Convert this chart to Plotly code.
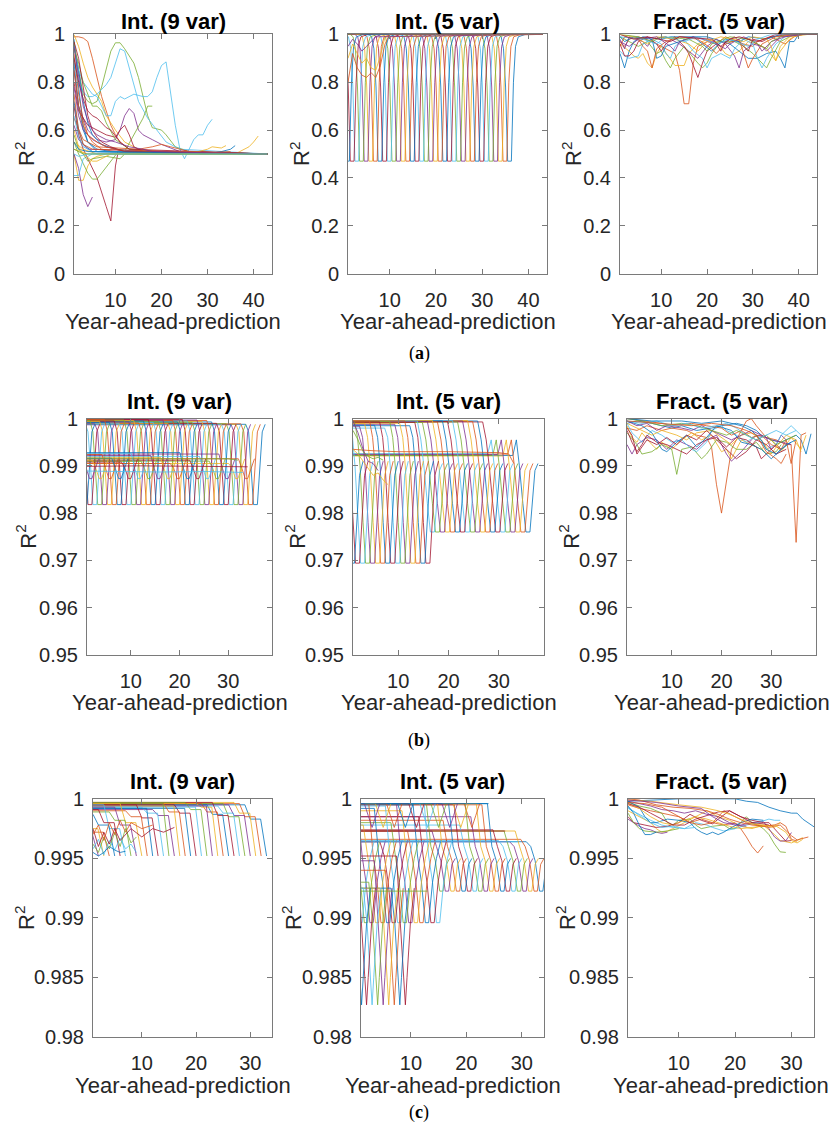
import plotly.graph_objects as go

W, H = 839, 1132
COLORS = ["#0072BD", "#D95319", "#EDB120", "#7E2F8E", "#77AC30", "#4DBEEE", "#A2142F"]
FONT = "Liberation Sans, Arial, sans-serif"

# ---------------- row (a) ----------------
# Int. (9 var): knots (year, R2) of every curve
a1_curves = [
    ([1, 2, 3, 4, 6, 43], [0.98, 0.78, 0.62, 0.55, 0.51, 0.5]),
    ([1, 2, 3, 4, 5, 6, 7, 8, 9, 10, 11, 13, 16, 43], [0.99, 0.99, 0.985, 0.97, 0.9, 0.82, 0.74, 0.68, 0.62, 0.58, 0.55, 0.52, 0.51, 0.5]),
    ([1, 2, 3, 4, 5, 6, 7, 8, 10, 12, 15, 20, 43], [1.0, 0.95, 0.88, 0.82, 0.78, 0.75, 0.72, 0.66, 0.6, 0.55, 0.52, 0.51, 0.5]),
    ([1, 2, 4, 6, 8, 10, 11, 12, 13, 14, 15, 16, 18, 20, 24, 43], [0.85, 0.7, 0.6, 0.56, 0.55, 0.56, 0.6, 0.66, 0.69, 0.67, 0.6, 0.58, 0.56, 0.54, 0.51, 0.5]),
    ([1, 2, 3, 4, 5, 6, 7, 8, 9, 10, 11, 12, 14, 15, 16, 17, 18, 20, 21, 23, 26, 43], [0.97, 0.85, 0.75, 0.72, 0.71, 0.72, 0.78, 0.86, 0.93, 0.965, 0.965, 0.94, 0.88, 0.82, 0.74, 0.66, 0.61, 0.6, 0.58, 0.53, 0.51, 0.5]),
    ([1, 2, 3, 4, 5, 6, 7, 8, 9, 10, 11, 12, 13, 14, 15, 17, 19, 21, 24, 43], [0.9, 0.8, 0.76, 0.74, 0.74, 0.75, 0.77, 0.79, 0.82, 0.88, 0.94, 0.93, 0.86, 0.78, 0.72, 0.65, 0.6, 0.55, 0.52, 0.5]),
    ([1, 2, 3, 4, 6, 8, 9, 10, 10.5, 12, 43], [0.7, 0.58, 0.52, 0.48, 0.4, 0.28, 0.22, 0.45, 0.5, 0.51, 0.5]),
    ([1, 2, 3, 4, 5, 7, 10, 15, 30, 33, 35, 36], [0.95, 0.85, 0.72, 0.63, 0.58, 0.54, 0.52, 0.51, 0.5, 0.51, 0.52, 0.535]),
    ([1, 2, 3, 4, 5, 7, 10, 30, 35], [0.92, 0.75, 0.64, 0.58, 0.55, 0.52, 0.51, 0.505, 0.51]),
    ([1, 2, 3, 4, 5, 6, 8, 43], [0.5, 0.39, 0.39, 0.45, 0.48, 0.49, 0.5, 0.5]),
    ([1, 2, 3, 4, 5], [0.5, 0.44, 0.33, 0.28, 0.32]),
    ([1, 2, 3, 4, 5, 6, 7, 9, 10, 11, 12, 14, 16, 17, 18], [0.55, 0.5, 0.46, 0.42, 0.395, 0.395, 0.42, 0.47, 0.5, 0.52, 0.51, 0.58, 0.65, 0.7, 0.7]),
    ([1, 2, 3, 5, 6, 8, 9, 10, 11, 12, 14, 16, 17, 18, 19, 20, 21, 22, 23, 24, 25, 26, 27, 28, 29, 30, 31],
     [0.95, 0.85, 0.8, 0.75, 0.74, 0.66, 0.66, 0.72, 0.74, 0.73, 0.75, 0.74, 0.74, 0.76, 0.82, 0.87, 0.885, 0.75, 0.62, 0.52, 0.48, 0.52, 0.56, 0.58, 0.58, 0.62, 0.645]),
    ([1, 2, 4, 6, 8, 10, 11, 12, 13, 14, 16, 43], [0.8, 0.68, 0.62, 0.6, 0.58, 0.57, 0.6, 0.62, 0.58, 0.53, 0.51, 0.5]),
    ([1, 2, 3, 4, 6, 9, 43], [0.88, 0.7, 0.6, 0.55, 0.52, 0.51, 0.5]),
    ([1, 3, 6, 15, 18, 20, 22, 26, 43], [0.65, 0.56, 0.53, 0.52, 0.53, 0.54, 0.53, 0.51, 0.5]),
    ([1, 3, 6, 36, 37, 38, 39, 40, 41], [0.55, 0.52, 0.5, 0.5, 0.51, 0.52, 0.53, 0.55, 0.575]),
    ([1, 2, 3, 5, 8, 12, 43], [0.78, 0.66, 0.6, 0.56, 0.53, 0.51, 0.5]),
    ([1, 2, 3, 5, 6, 7, 8, 10, 13, 17, 43], [0.94, 0.88, 0.8, 0.7, 0.7, 0.68, 0.63, 0.56, 0.52, 0.51, 0.5]),
    ([1, 2, 3, 5, 43], [0.41, 0.41, 0.48, 0.5, 0.5]),
    ([1, 2, 3, 4, 5, 6, 7, 8, 9, 11, 13, 43], [0.9, 0.8, 0.73, 0.68, 0.66, 0.65, 0.63, 0.61, 0.6, 0.55, 0.52, 0.5]),
    ([1, 2, 3, 5, 43], [0.72, 0.6, 0.54, 0.51, 0.5]),
    ([1, 2, 3, 4, 6, 8, 12, 43], [0.85, 0.7, 0.62, 0.58, 0.55, 0.53, 0.51, 0.5]),
    ([1, 4, 28, 30, 31, 33, 34], [0.52, 0.5, 0.51, 0.52, 0.53, 0.525, 0.535]),
    ([1, 2, 4, 43], [0.62, 0.56, 0.52, 0.5]),
    ([1, 2, 3, 4, 5, 8, 11, 12, 43], [0.58, 0.52, 0.5, 0.47, 0.48, 0.49, 0.48, 0.5, 0.5]),
    ([1, 2, 3, 5, 43], [0.66, 0.57, 0.53, 0.51, 0.5]),
    ([1, 2, 3, 4, 5, 6, 7, 9, 12, 43], [0.97, 0.9, 0.78, 0.66, 0.6, 0.57, 0.55, 0.53, 0.51, 0.5]),
    ([1, 2, 4, 43], [0.55, 0.52, 0.51, 0.5]),
    ([1, 2, 3, 5, 43], [0.75, 0.6, 0.54, 0.52, 0.5]),
    ([1, 2, 3, 5, 6, 7, 9, 43], [0.6, 0.53, 0.5, 0.47, 0.47, 0.48, 0.5, 0.5]),
    ([1, 2, 3, 4, 5, 6, 8, 10, 13, 16, 18, 43], [0.95, 0.82, 0.7, 0.64, 0.6, 0.58, 0.56, 0.55, 0.53, 0.52, 0.51, 0.5]),
    ([1, 3, 43], [0.52, 0.5, 0.5]),
    ([1, 2, 4, 43], [0.5, 0.49, 0.5, 0.5]),
]

# Int. (5 var): each curve carries the same notch, one year later than the previous one
a2_notch_at = [35.5, 34.5, 33.5, 32.5, 31.5, 30.5, 29.5, 28.5, 27.5, 26.5, 25.5, 24.5, 23.5, 22.5, 21.5, 20.5, 19.5, 18.5,
               17.5, 16.5, 15.5, 14.5, 13.5, 12.5, 11.5, 10.5, 9.5, 8.5, 7.5, 6.5, 5.5, 4.5, 3.5, 2.5, 1.5, 0.5]
a2_notch_dx = [-2.0, -1.4, -0.9, -0.45, 0.0, 0.8, 1.25, 1.7, 2.3, 3.8]
a2_notch_r2 = [1.0, 0.99, 0.94, 0.78, 0.47, 0.47, 0.8, 0.95, 0.99, 1.0]
a2_extra = [
    ([1, 2, 3, 4, 5, 6, 7, 8, 9, 10, 43], [0.8, 0.92, 0.86, 0.83, 0.82, 0.84, 0.82, 0.87, 0.96, 1.0, 1.0]),
    ([1, 2, 3, 4, 5, 6, 7, 8, 9, 43], [0.9, 0.96, 0.92, 0.88, 0.9, 0.86, 0.85, 0.91, 0.99, 1.0]),
    ([1, 2, 3, 4, 5, 6, 7, 43], [0.95, 0.98, 0.96, 0.93, 0.95, 0.97, 0.99, 1.0]),
]

# Fract. (5 var)
a3_curves = [
    ([1, 2, 3, 4, 6, 10, 12, 20, 25, 27, 29, 31, 33, 35, 36, 37, 38, 39, 40, 44],
     [0.92, 0.86, 0.93, 0.97, 0.99, 0.98, 0.99, 0.99, 0.96, 0.93, 0.9, 0.9, 0.92, 0.93, 0.9, 0.86, 0.97, 0.97, 1.0, 1.0]),
    ([1, 2, 3, 5, 8, 10, 12, 13, 14, 15, 16, 17, 18, 20, 22, 24, 28, 30, 31, 34, 36, 37, 39, 41, 44],
     [0.97, 0.95, 0.98, 0.99, 0.97, 0.95, 0.93, 0.92, 0.85, 0.71, 0.71, 0.88, 0.95, 0.97, 0.96, 0.99, 0.96, 0.95, 0.97, 0.99, 0.97, 0.96, 0.99, 1.0, 1.0]),
    ([1, 3, 4, 5, 6, 7, 8, 9, 10, 12, 13, 14, 15, 16, 18, 20, 22, 24, 25, 27, 29, 31, 33, 35, 36, 38, 40, 44],
     [0.96, 0.93, 0.91, 0.9, 0.92, 0.88, 0.86, 0.92, 0.95, 0.9, 0.87, 0.87, 0.87, 0.92, 0.96, 0.98, 0.97, 0.92, 0.91, 0.93, 0.97, 0.96, 0.94, 0.89, 0.93, 0.98, 1.0, 1.0]),
    ([1, 2, 3, 6, 7, 8, 11, 14, 16, 18, 20, 22, 24, 26, 27, 28, 30, 32, 33, 34, 36, 41, 44],
     [0.98, 0.94, 0.99, 0.97, 0.95, 0.98, 0.99, 0.96, 0.93, 0.9, 0.95, 0.98, 0.96, 0.91, 0.86, 0.93, 0.96, 0.95, 0.93, 0.95, 0.99, 1.0, 1.0]),
    ([1, 3, 5, 7, 9, 10, 11, 12, 13, 15, 17, 18, 19, 20, 21, 23, 26, 28, 30, 31, 32, 33, 34, 36, 39, 44],
     [0.99, 0.97, 0.95, 0.97, 0.92, 0.93, 0.89, 0.86, 0.9, 0.95, 0.9, 0.88, 0.86, 0.88, 0.92, 0.97, 0.97, 0.95, 0.92, 0.9, 0.88, 0.86, 0.9, 0.97, 1.0, 1.0]),
    ([1, 2, 3, 5, 6, 8, 10, 11, 12, 13, 15, 17, 19, 20, 21, 23, 24, 25, 26, 28, 30, 31, 32, 33, 35, 37, 40, 44],
     [0.93, 0.91, 0.9, 0.91, 0.96, 0.98, 0.96, 0.92, 0.9, 0.95, 0.98, 0.93, 0.9, 0.86, 0.9, 0.92, 0.91, 0.9, 0.94, 0.98, 0.96, 0.9, 0.86, 0.9, 0.96, 0.99, 1.0, 1.0]),
    ([1, 2, 3, 4, 5, 7, 9, 10, 11, 13, 15, 16, 17, 18, 19, 20, 22, 23, 24, 26, 28, 29, 30, 32, 34, 38, 44],
     [0.96, 0.91, 0.91, 0.93, 0.97, 0.99, 0.96, 0.93, 0.96, 0.99, 0.95, 0.92, 0.87, 0.82, 0.88, 0.93, 0.96, 0.93, 0.97, 0.99, 0.95, 0.93, 0.98, 0.97, 0.99, 1.0, 1.0]),
    ([1, 2, 4, 8, 9, 10, 11, 14, 17, 19, 21, 22, 24, 27, 29, 33, 36, 44],
     [0.99, 0.97, 0.99, 0.98, 0.9, 0.91, 0.95, 0.97, 0.99, 0.96, 0.93, 0.95, 0.98, 0.97, 0.99, 0.98, 1.0, 1.0]),
    ([1, 2, 5, 6, 7, 8, 9, 11, 14, 18, 21, 22, 24, 27, 28, 29, 30, 32, 35, 40, 44],
     [0.95, 0.99, 0.98, 0.95, 0.93, 0.86, 0.94, 0.97, 0.99, 0.98, 0.94, 0.92, 0.96, 0.98, 0.92, 0.86, 0.9, 0.96, 0.99, 1.0, 1.0]),
    ([1, 4, 7, 9, 13, 16, 18, 20, 23, 28, 30, 33, 34, 35, 36, 38, 42, 44],
     [1.0, 0.99, 0.96, 0.99, 0.98, 0.96, 0.93, 0.97, 0.99, 0.97, 0.99, 0.98, 0.95, 0.89, 0.95, 0.99, 1.0, 1.0]),
    ([1, 3, 5, 9, 12, 13, 14, 17, 21, 24, 25, 28, 31, 32, 34, 37, 41, 44],
     [0.97, 0.95, 0.98, 0.99, 0.95, 0.93, 0.97, 0.99, 0.97, 0.94, 0.96, 0.99, 0.96, 0.93, 0.97, 0.99, 1.0, 1.0]),
    ([1, 5, 8, 10, 16, 19, 20, 21, 25, 29, 33, 34, 37, 44],
     [1.0, 0.99, 0.97, 0.99, 0.98, 0.95, 0.93, 0.96, 0.99, 0.98, 0.94, 0.97, 1.0, 1.0]),
    ([1, 6, 9, 11, 15, 18, 22, 25, 29, 31, 34, 44],
     [0.99, 0.98, 0.96, 0.99, 0.97, 0.99, 0.96, 0.98, 0.95, 0.98, 1.0, 1.0]),
    ([1, 4, 7, 12, 14, 21, 23, 25, 27, 31, 35, 44],
     [1.0, 0.98, 0.99, 0.97, 0.99, 0.98, 0.95, 0.98, 0.99, 0.97, 1.0, 1.0]),
]

# ---------------- row (b) ----------------
# Int. (9 var): deep notches down to 0.9818, shallow ones down to 0.9873
b1_deep_at = [35.2, 34.2, 33.2, 32.2, 31.2, 30.2, 29.2, 28.2, 27.2, 26.2, 25.2, 24.2, 23.2, 22.2, 21.2, 20.2, 19.2, 18.2,
              17.2, 16.2, 15.2, 14.2, 13.2, 12.2, 11.2, 10.2, 9.2, 8.2, 7.2, 6.2, 5.2, 4.2, 3.2, 2.2, 1.2, 0.2]
b1_deep_start = [0.9988, 0.9989, 0.9988, 0.9987, 0.9989, 0.9988, 0.999, 0.9993, 0.9996, 0.9994, 0.9997, 0.9992, 0.9995,
                 0.9998, 0.9993, 0.9996, 0.999, 0.9997, 0.9994, 0.9992, 0.9998, 0.9995, 0.9991, 0.9996, 0.9993, 0.9997,
                 0.999, 0.9995, 0.9992, 0.9998, 0.9994, 0.9989, 0.9996, 0.9991, 0.9995, 0.9993]
b1_deep_dx = [-1.6, -1.0, -0.5, 0.0, 0.8, 1.3, 1.8, 2.4]
b1_deep_r2 = [None, 0.9972, 0.9905, 0.9818, 0.9818, 0.9905, 0.9972, 0.9988]
b1_shallow_at = [33.5, 31.5, 29.5, 27.5, 25.5, 23.5, 21.5, 19.5, 17.5, 15.5, 13.5, 11.5, 9.5, 7.5, 5.5, 3.5, 1.5]
b1_shallow_start = [0.9915, 0.9905, 0.9925, 0.991, 0.992, 0.9912, 0.9928, 0.9905, 0.9918, 0.9922, 0.991, 0.9926,
                    0.9908, 0.9916, 0.9924, 0.9912, 0.992]
b1_shallow_dx = [-1.4, -0.7, 0.0, 0.5, 1.2, 1.9]
b1_shallow_r2 = [None, 0.9895, 0.9873, 0.9873, 0.9895, 0.9915]
b1_extra = [
    ([1, 10, 20, 30, 32], [0.9915, 0.9915, 0.9914, 0.9915, 0.9912]),
    ([1, 8, 16, 26, 33], [0.9889, 0.9888, 0.9887, 0.9888, 0.9886]),
    ([1, 12, 24, 34], [0.9899, 0.99, 0.9899, 0.9898]),
]

# Int. (5 var): notches to 0.976 (late) and to 0.9694 (early)
b2_late_at = [35.4, 34.4, 33.4, 32.4, 31.4, 30.4, 29.4, 28.4, 27.4, 26.4, 25.4, 24.4, 23.4, 22.4, 21.4, 20.4, 19.4, 18.4, 17.4, 16.4]
b2_late_start = [0.9922, 0.9925, 0.9921, 0.9924, 0.9922, 0.9926, 0.9993, 0.9995, 0.9994, 0.9996, 0.9995, 0.9993,
                 0.9996, 0.9994, 0.9995, 0.9993, 0.9996, 0.9994, 0.9992, 0.9995]
b2_late_dx = [-2.6, -1.9, -1.3, -0.6, 0.0, 0.8, 1.3, 1.8, 2.4]
b2_late_r2 = [None, 0.9955, 0.99, 0.982, 0.976, 0.976, 0.983, 0.989, 0.9905]
b2_early_at = [15.5, 14.5, 13.5, 12.5, 11.5, 10.5, 9.5, 8.5, 7.5, 6.5, 5.5, 4.5, 3.5, 2.5, 1.5, 0.5]
b2_early_start = [0.9992, 0.9985, 0.9995, 0.999, 0.9988, 0.9994, 0.998, 0.9993, 0.9986, 0.9995, 0.999, 0.9984,
                  0.9993, 0.9988, 0.9995, 0.999]
b2_early_dx = [-2.2, -1.6, -1.1, -0.5, 0.0, 0.8, 1.3, 1.8, 2.5]
b2_early_r2 = [None, 0.996, 0.99, 0.978, 0.9694, 0.9694, 0.979, 0.988, 0.991]
b2_extra = [
    ([1, 5, 10, 20, 30, 32, 33], [0.9935, 0.9932, 0.993, 0.993, 0.9928, 0.9925, 0.9905]),
    ([1, 2, 3, 4, 5, 6, 7, 8], [0.9935, 0.9925, 0.991, 0.9895, 0.988, 0.9885, 0.987, 0.986]),
    ([1, 2, 3, 4, 5, 6], [0.9995, 0.997, 0.9935, 0.991, 0.9905, 0.989]),
    ([1, 2, 3, 4, 5, 6, 7], [0.9975, 0.9955, 0.993, 0.992, 0.9915, 0.9918, 0.9912]),
]

# Fract. (5 var)
b3_curves = [
    ([1, 3, 6, 10, 12, 15, 18, 20, 23, 25, 27, 28, 30, 32, 34, 35, 36, 37, 38],
     [0.999, 0.9995, 0.999, 0.998, 0.9985, 0.9975, 0.998, 0.9985, 0.999, 0.9985, 0.9975, 0.9965, 0.9955, 0.995, 0.996, 0.9965, 0.9955, 0.9925, 0.9968]),
    ([1, 3, 5, 8, 10, 13, 15, 17, 18, 19, 20, 21, 22, 24, 25, 26, 27, 29, 31, 33, 34, 35, 36, 37],
     [0.998, 0.9975, 0.9985, 0.9975, 0.998, 0.9975, 0.9965, 0.996, 0.994, 0.986, 0.98, 0.987, 0.9935, 0.9975, 0.9995, 1.0, 0.9985, 0.996, 0.9955, 0.9945, 0.9945, 0.9738, 0.9965, 0.997]),
    ([1, 2, 3, 4, 6, 7, 8, 10, 12, 14, 16, 18, 20, 21, 22, 24, 26, 28, 30, 32, 34, 36, 37],
     [0.9985, 0.996, 0.995, 0.997, 0.9945, 0.9935, 0.995, 0.9935, 0.9955, 0.997, 0.9955, 0.9965, 0.993, 0.9935, 0.9915, 0.9955, 0.9945, 0.9935, 0.9955, 0.993, 0.996, 0.9935, 0.9965]),
    ([1, 2, 3, 5, 7, 9, 11, 13, 15, 17, 19, 20, 21, 22, 24, 26, 27, 29, 30, 31, 32, 33],
     [0.9945, 0.9925, 0.9945, 0.996, 0.9955, 0.9935, 0.9955, 0.9945, 0.9935, 0.9955, 0.9965, 0.9945, 0.9925, 0.991, 0.993, 0.9955, 0.9965, 0.996, 0.9935, 0.9945, 0.9965, 0.9955]),
    ([1, 3, 4, 6, 8, 10, 11, 12, 14, 16, 17, 19, 21, 23, 25, 27, 29, 31, 32],
     [0.997, 0.9945, 0.9925, 0.993, 0.9945, 0.9935, 0.9882, 0.9935, 0.994, 0.9915, 0.9925, 0.9955, 0.995, 0.9935, 0.9935, 0.995, 0.9925, 0.993, 0.9945]),
    ([1, 2, 4, 6, 8, 10, 12, 14, 15, 17, 18, 20, 21, 23, 25, 27, 29, 31, 32, 34, 35],
     [0.999, 0.997, 0.995, 0.9975, 0.9965, 0.995, 0.9955, 0.9935, 0.993, 0.995, 0.9975, 0.9985, 0.9975, 0.9965, 0.995, 0.9965, 0.9935, 0.9945, 0.9965, 0.9985, 0.9975]),
    ([1, 2, 3, 4, 5, 7, 9, 11, 13, 15, 17, 19, 21, 23, 25, 27, 28, 29, 31, 32],
     [0.9975, 0.995, 0.993, 0.9945, 0.9965, 0.995, 0.9945, 0.9935, 0.9925, 0.9945, 0.9955, 0.996, 0.994, 0.996, 0.9955, 0.994, 0.9915, 0.9925, 0.9945, 0.9935]),
    ([1, 4, 6, 8, 9, 11, 13, 15, 17, 19, 22, 24, 26, 28, 30, 32, 34],
     [0.9995, 0.9985, 0.997, 0.9935, 0.993, 0.995, 0.9965, 0.994, 0.996, 0.9985, 0.9975, 0.995, 0.9945, 0.9935, 0.9915, 0.9935, 0.995]),
    ([1, 5, 8, 10, 14, 17, 20, 22, 24, 26, 28, 30, 32, 33, 34, 35],
     [1.0, 0.9995, 0.999, 0.9985, 0.999, 0.9985, 0.998, 0.9965, 0.9975, 0.996, 0.9965, 0.9945, 0.9935, 0.9955, 0.9905, 0.9955]),
    ([1, 3, 6, 8, 11, 13, 15, 18, 20, 22, 24, 26, 28, 30, 31, 33, 35, 36],
     [0.999, 0.998, 0.9965, 0.9975, 0.9965, 0.9955, 0.997, 0.9975, 0.996, 0.9945, 0.9965, 0.997, 0.9955, 0.9925, 0.994, 0.9965, 0.9955, 0.993]),
    ([1, 3, 5, 7, 9, 12, 14, 16, 18, 20, 22, 24, 26, 28, 30, 32, 34],
     [0.9995, 0.9985, 0.999, 0.9975, 0.9985, 0.998, 0.9975, 0.9985, 0.9975, 0.9965, 0.9955, 0.9965, 0.9975, 0.9965, 0.9955, 0.995, 0.9945]),
    ([1, 4, 8, 12, 15, 18, 21, 23, 25, 27, 29, 31, 33, 35],
     [1.0, 0.9995, 0.9985, 0.999, 0.9985, 0.9975, 0.9965, 0.9975, 0.9965, 0.9955, 0.9965, 0.9945, 0.9955, 0.9965]),
    ([1, 4, 7, 10, 13, 16, 19, 21, 23, 25, 27, 29, 31, 33, 35, 36],
     [0.9995, 0.999, 0.9995, 0.9985, 0.999, 0.998, 0.9985, 0.999, 0.998, 0.9965, 0.9955, 0.9965, 0.9975, 0.9965, 0.9975, 0.9965]),
    ([1, 2, 3, 5, 7, 9, 11, 13, 15, 17, 19, 21, 23, 25, 27, 29, 31, 33],
     [0.998, 0.9965, 0.9925, 0.9955, 0.9945, 0.996, 0.9945, 0.9965, 0.9955, 0.9975, 0.9955, 0.9935, 0.9915, 0.993, 0.9955, 0.9945, 0.9925, 0.9935]),
    ([1, 6, 12, 16, 20, 24, 26, 28, 29, 31, 33, 35],
     [1.0, 0.9995, 0.9995, 0.999, 0.9995, 0.9985, 0.9975, 0.9955, 0.9935, 0.9925, 0.9945, 0.9955]),
    ([1, 8, 14, 18, 22, 25, 27, 29, 31, 32, 33],
     [0.9995, 0.999, 0.9985, 0.999, 0.9985, 0.9975, 0.9965, 0.993, 0.9915, 0.9905, 0.9925]),
]

# ---------------- row (c) ----------------
# Int. (9 var): each curve holds a shelf and then drops to 0.9952
c1_drop_at = [33, 32, 31, 30, 29, 28, 27, 26, 25, 24, 23, 22, 21, 20, 19, 18, 17, 16, 15, 14, 13, 12, 11, 10, 9, 8, 7, 6, 5, 4, 3, 2]
c1_top = [0.9995, 0.9996, 0.9997, 0.9995, 0.9996, 0.9994, 0.9997, 0.9995, 0.9996, 0.9996, 0.9994, 0.9997, 0.9993, 0.9995,
          0.9992, 0.9996, 0.9994, 0.9991, 0.9996, 0.9993, 0.9995, 0.9992, 0.999, 0.9996, 0.9993, 0.9989, 0.9995, 0.9991,
          0.9987, 0.9993, 0.9985, 0.999]
c1_shelf = [0.9983, 0.9985, 0.9988, 0.9986, 0.9985, 0.9988, 0.9986, 0.9987, 0.9989, 0.9993, 0.9994, 0.9991, 0.9993, 0.9988,
            0.9992, 0.9989, 0.9994, 0.9986, 0.9996, 0.9988, 0.9984, 0.9992, 0.9985, 0.998, 0.9978, 0.9982, 0.9975, 0.998,
            0.9978, 0.9972, 0.9975, 0.997]
c1_drop_dx = [-4.0, -3.0, -1.1, 0.0]
c1_floor = 0.9952
c1_extra = [
    ([1, 2, 3, 4, 5, 6, 7, 8, 9], [0.9962, 0.9955, 0.9968, 0.9958, 0.9972, 0.996, 0.9975, 0.9963, 0.9968]),
    ([1, 2, 3, 4, 5, 6, 7, 8, 9], [0.9958, 0.9966, 0.9953, 0.9965, 0.9957, 0.9967, 0.9958, 0.9962, 0.9955]),
    ([1, 2, 3, 4, 5, 6, 8, 10, 12, 14, 16], [0.9975, 0.996, 0.9972, 0.9962, 0.9975, 0.9965, 0.9975, 0.9968, 0.9975, 0.9972, 0.9976]),
    ([1, 2, 3, 4, 5, 6, 7], [0.9955, 0.9952, 0.9955, 0.996, 0.9957, 0.9955, 0.9956]),
    ([1, 2, 3, 4, 5, 6, 7, 8, 10, 12], [0.997, 0.9978, 0.9965, 0.998, 0.997, 0.9982, 0.9972, 0.998, 0.9975, 0.9978]),
]

# Int. (5 var): notch floors 0.99225, 0.9896 and 0.9827, plus shallow top notches
c2_late_at = [33.2, 32.2, 31.2, 30.2, 29.2, 28.2, 27.2, 26.2, 25.2, 24.2, 23.2, 22.2, 21.2, 20.2, 19.2, 18.2, 17.2, 16.2, 15.2]
c2_late_start = [0.9964, 0.9966, 0.9973, 0.9964, 0.9973, 0.9965, 0.9974, 0.9996, 0.9995, 0.9996, 0.9985, 0.9996, 0.9978,
                 0.9995, 0.9996, 0.9982, 0.9996, 0.9973, 0.9996]
c2_late_dx = [-2.4, -1.6, -0.8, 0.0, 0.6, 1.2, 1.8]
c2_late_r2 = [None, 0.996, 0.9948, 0.99225, 0.99225, 0.9945, 0.995]
c2_mid_at = [14.6, 13.6, 12.6, 11.6, 10.6, 9.6, 8.6, 7.6, 6.6, 5.6, 4.6, 3.6, 2.6, 1.6, 0.6]
c2_mid_start = [0.9996, 0.9985, 0.9995, 0.9973, 0.999, 0.9996, 0.998, 0.9994, 0.9964, 0.9992, 0.9996, 0.9978, 0.9995, 0.9988, 0.9996]
c2_mid_dx = [-2.2, -1.4, -0.7, 0.0, 0.6, 1.3, 2.0, 2.8]
c2_mid_r2 = [None, 0.9952, 0.993, 0.9896, 0.9896, 0.993, 0.995, 0.9965]
c2_low_at = [9.0, 8.0, 7.0, 6.0, 5.0, 4.0, 3.0, 2.0, 1.1]
c2_low_start = [0.9952, 0.9925, 0.994, 0.9925, 0.9948, 0.993, 0.9925, 0.9945, 0.9925]
c2_low_dx = [-1.6, -0.9, -0.3, 0.0, 0.3, 0.9, 1.6]
c2_low_r2 = [None, 0.9895, 0.985, 0.9827, 0.985, 0.9895, 0.9925]
c2_top_at = [21, 19, 17, 15, 13, 11, 9, 7, 5, 3]
c2_top_dx = [-1.4, -0.7, 0.0, 0.7, 1.4]
c2_top_r2 = [0.9996, 0.9986, 0.9976, 0.9986, 0.9996]
c2_extra = [
    ([1, 13], [0.99225, 0.99225]),
    ([1, 29.3], [0.9964, 0.9964]),
    ([1, 27], [0.9973, 0.9973]),
    ([1, 24], [0.9996, 0.9996]),
]

# Fract. (5 var)
c3_curves = [
    ([1, 5, 10, 15, 20, 22, 24, 26, 28, 30, 31, 32, 33, 34],
     [0.9998, 0.9999, 1.0, 1.0, 1.0, 0.9998, 0.9997, 0.9993, 0.999, 0.9988, 0.9988, 0.9983, 0.998, 0.99765]),
    ([1, 3, 5, 8, 10, 12, 14, 16, 18, 20, 21, 22, 23, 24, 25],
     [0.9995, 0.9992, 0.999, 0.9987, 0.9985, 0.998, 0.9983, 0.998, 0.9978, 0.998, 0.9975, 0.9968, 0.996, 0.99545, 0.99605]),
    ([1, 3, 5, 6, 7, 8, 9, 11, 13, 15, 17, 19, 21, 23, 25, 27, 28, 29, 30, 31, 32],
     [0.999, 0.9985, 0.998, 0.9975, 0.9972, 0.9973, 0.9975, 0.998, 0.9985, 0.999, 0.9985, 0.9982, 0.9977, 0.9975, 0.9978, 0.997, 0.9965, 0.9964, 0.9963, 0.9965, 0.99675]),
    ([1, 3, 5, 7, 9, 11, 13, 15, 17, 19, 21, 23, 25, 26, 27, 28, 29, 30],
     [0.9998, 0.9996, 0.9994, 0.9991, 0.999, 0.9988, 0.999, 0.9987, 0.9985, 0.998, 0.9978, 0.998, 0.9981, 0.9975, 0.9968, 0.99645, 0.99648, 0.99717]),
    ([1, 3, 5, 7, 8, 9, 10, 12, 13, 14, 16, 18, 19, 20, 21, 22, 23, 24, 25, 26, 27, 28, 29],
     [0.9997, 0.9994, 0.9992, 0.9988, 0.998, 0.9978, 0.9982, 0.9983, 0.9978, 0.9975, 0.9977, 0.9978, 0.9975, 0.9975, 0.998, 0.9985, 0.998, 0.9978, 0.9975, 0.997, 0.9962, 0.99555, 0.9955]),
    ([1, 3, 5, 7, 9, 11, 13, 15, 16, 18, 20, 22, 24, 26, 27, 28],
     [0.9992, 0.9987, 0.9982, 0.9978, 0.9976, 0.9975, 0.998, 0.9978, 0.9976, 0.9973, 0.9975, 0.9978, 0.998, 0.9983, 0.9982, 0.9982]),
    ([1, 2, 4, 6, 8, 10, 12, 14, 16, 17, 19, 21, 23, 25, 26, 27, 28, 29, 30],
     [0.9985, 0.998, 0.9978, 0.9976, 0.9977, 0.998, 0.9987, 0.9982, 0.9979, 0.9983, 0.999, 0.9985, 0.9982, 0.998, 0.998, 0.9975, 0.997, 0.99645, 0.9965]),
    ([1, 3, 4, 5, 6, 8, 10, 12, 13, 14, 15, 16, 17, 18, 19, 21, 23, 25],
     [0.9998, 0.9993, 0.9985, 0.998, 0.998, 0.9983, 0.9982, 0.998, 0.9975, 0.9972, 0.997, 0.9972, 0.997, 0.9972, 0.9975, 0.998, 0.9983, 0.9982]),
    ([1, 4, 7, 10, 12, 14, 16, 18, 20, 22, 24, 26, 28, 30, 31, 32, 33],
     [0.9997, 0.9996, 0.9993, 0.9985, 0.998, 0.9978, 0.998, 0.999, 0.9985, 0.998, 0.9978, 0.9976, 0.9978, 0.9969, 0.99655, 0.9967, 0.9968]),
    ([1, 3, 5, 7, 9, 11, 13, 15, 17, 19, 21, 23, 25, 27, 29, 30, 31, 32],
     [0.9996, 0.9992, 0.9985, 0.998, 0.9978, 0.9982, 0.9985, 0.9983, 0.998, 0.9977, 0.9975, 0.9976, 0.9977, 0.9978, 0.9972, 0.9965, 0.9963, 0.9966]),
    ([1, 2, 3, 4, 5, 6, 7, 8], [0.9983, 0.998, 0.9977, 0.9975, 0.9974, 0.9972, 0.9971, 0.9972]),
    ([1, 2, 3, 4, 6, 8, 10], [0.9988, 0.998, 0.9975, 0.9973, 0.9972, 0.9973, 0.9975]),
    ([1, 3, 5, 7, 9, 11, 13], [0.9993, 0.9986, 0.998, 0.9976, 0.9977, 0.9975, 0.9976]),
    ([1, 3, 5, 7, 9, 11, 13, 15, 17, 19, 21, 23, 25, 26],
     [0.9996, 0.9993, 0.9988, 0.9983, 0.9978, 0.9978, 0.9983, 0.9986, 0.9989, 0.999, 0.9985, 0.998, 0.9979, 0.9978]),
    ([1, 2, 3, 4, 5, 6], [0.9994, 0.9988, 0.9978, 0.997, 0.997, 0.9972]),
    ([1, 3, 6, 9, 12, 15, 17, 19, 21, 23, 25, 27, 28, 29, 30, 31],
     [1.0, 0.9999, 0.9995, 0.9993, 0.9992, 0.999, 0.9987, 0.9983, 0.998, 0.9978, 0.9977, 0.9978, 0.998, 0.9977, 0.9966, 0.99645]),
    ([1, 5, 10, 14, 17, 19, 21, 23, 25, 27, 28],
     [0.9999, 0.9998, 0.9995, 0.9993, 0.999, 0.9987, 0.9983, 0.9979, 0.9978, 0.9976, 0.998]),
    ([1, 6, 10, 14, 16, 18, 20, 22], [0.9999, 0.9997, 0.9994, 0.9992, 0.9985, 0.998, 0.9978, 0.9977]),
]


def notched(at, dx, r2, start=None, end_x=None):
    # place the notch at every listed year
    curves = []
    for i, k in enumerate(at):
        xs = [k + d for d in dx]
        ys = list(r2)
        if start is not None:
            ys[0] = start[i]
        if xs[0] > 1:
            xs.insert(0, 1)
            ys.insert(0, ys[0])
        if end_x is not None and xs[-1] < end_x:
            xs.append(end_x)
            ys.append(ys[-1])
        curves.append((xs, ys))
    return curves


a2_curves = notched(a2_notch_at, a2_notch_dx, a2_notch_r2, end_x=43) + a2_extra
b1_curves = (notched(b1_deep_at, b1_deep_dx, b1_deep_r2, start=b1_deep_start)
             + notched(b1_shallow_at, b1_shallow_dx, b1_shallow_r2, start=b1_shallow_start) + b1_extra)
b2_curves = (notched(b2_late_at, b2_late_dx, b2_late_r2, start=b2_late_start)
             + notched(b2_early_at, b2_early_dx, b2_early_r2, start=b2_early_start) + b2_extra)
c1_curves = []
for k, top, shelf in zip(c1_drop_at, c1_top, c1_shelf):
    c1_curves += notched([k], c1_drop_dx, [top, shelf, shelf, c1_floor])
c1_curves += c1_extra
c2_curves = (notched(c2_late_at, c2_late_dx, c2_late_r2, start=c2_late_start)
             + notched(c2_mid_at, c2_mid_dx, c2_mid_r2, start=c2_mid_start)
             + notched(c2_low_at, c2_low_dx, c2_low_r2, start=c2_low_start)
             + notched(c2_top_at, c2_top_dx, c2_top_r2) + c2_extra)

ya_ticks = [0, 0.2, 0.4, 0.6, 0.8, 1]
ya_text = ["0", "0.2", "0.4", "0.6", "0.8", "1"]
yb_ticks = [0.95, 0.96, 0.97, 0.98, 0.99, 1]
yb_text = ["0.95", "0.96", "0.97", "0.98", "0.99", "1"]
yc_ticks = [0.98, 0.985, 0.99, 0.995, 1]
yc_text = ["0.98", "0.985", "0.99", "0.995", "1"]

# (curves, title, pixel box l,t,r,b as seen in the picture, x max, y range, y ticks, y tick text, x ticks, R2 gap)
panels = [
    (a1_curves, "Int. (9 var)", (74, 34, 272, 273), 44, (0, 1), ya_ticks, ya_text, [10, 20, 30, 40], 49),
    (a2_curves, "Int. (5 var)", (348, 34, 547, 273), 44, (0, 1), ya_ticks, ya_text, [10, 20, 30, 40], 48),
    (a3_curves, "Fract. (5 var)", (620, 34, 817, 273), 44, (0, 1), ya_ticks, ya_text, [10, 20, 30, 40], 48),
    (b1_curves, "Int. (9 var)", (87, 418, 272, 654), 39, (0.95, 1), yb_ticks, yb_text, [10, 20, 30], 61),
    (b2_curves, "Int. (5 var)", (353, 418, 544, 654), 39, (0.95, 1), yb_ticks, yb_text, [10, 20, 30], 58),
    (b3_curves, "Fract. (5 var)", (627, 418, 816, 654), 39, (0.95, 1), yb_ticks, yb_text, [10, 20, 30], 58),
    (c1_curves, "Int. (9 var)", (93, 798, 272, 1036), 34, (0.98, 1), yc_ticks, yc_text, [10, 20, 30], 68),
    (c2_curves, "Int. (5 var)", (361, 798, 544, 1036), 34, (0.98, 1), yc_ticks, yc_text, [10, 20, 30], 69),
    (c3_curves, "Fract. (5 var)", (628, 798, 814, 1036), 34, (0.98, 1), yc_ticks, yc_text, [10, 20, 30], 62),
]


def py(v):
    # vertical pixel in the photographed page -> paper fraction (the capture squeezes height slightly)
    return 1 - ((v - 10.6) / 0.98) / H


fig = go.Figure()
axis_style = dict(showline=True, linecolor="#7a7a7a", linewidth=1, mirror="ticks", ticks="inside", ticklen=5,
                  tickwidth=1, tickcolor="#7a7a7a", showgrid=False, zeroline=False, fixedrange=True,
                  tickfont=dict(family=FONT, size=20, color="#262626"))
annotations = []
for n, (curves, title, box, xmax, yr, yt, ytt, xt, gap) in enumerate(panels, start=1):
    sfx = "" if n == 1 else str(n)
    for j, (xs, ys) in enumerate(curves):
        fig.add_trace(go.Scatter(x=xs, y=ys, mode="lines", line=dict(color=COLORS[j % 7], width=0.8),
                                 xaxis="x" + sfx, yaxis="y" + sfx, showlegend=False, hoverinfo="skip"))
    l, t, r, b = box
    fig.layout["xaxis" + sfx] = dict(axis_style, domain=[l / W, r / W], anchor="y" + sfx, range=[1, xmax],
                                     tickvals=xt, ticklabelstandoff=8)
    fig.layout["yaxis" + sfx] = dict(axis_style, domain=[py(b), py(t)], anchor="x" + sfx, range=list(yr),
                                     tickvals=yt, ticktext=ytt, ticklabelstandoff=4)
    cx = (l + r) / 2
    common = dict(xref="paper", yref="paper", showarrow=False, xanchor="center", yanchor="middle")
    annotations.append(dict(common, text="<b>" + title + "</b>", x=cx / W, y=min(py(t - 17), py(21)),
                            font=dict(family=FONT, size=22, color="black")))
    annotations.append(dict(common, text="Year-ahead-prediction", x=cx / W, y=py(b + 48),
                            font=dict(family=FONT, size=22, color="#262626")))
    annotations.append(dict(common, text="R<sup>2</sup>", x=(l - gap) / W, y=py((t + b) / 2), textangle=-90,
                            font=dict(family=FONT, size=22, color="#262626")))

for lab, cy in [("a", 353), ("b", 740), ("c", 1111)]:
    annotations.append(dict(text="(<b>" + lab + "</b>)", x=419 / W, y=py(cy), xref="paper", yref="paper",
                            showarrow=False, xanchor="center", yanchor="middle",
                            font=dict(family="Liberation Serif, Times New Roman, serif", size=18, color="black")))

fig.update_layout(width=W, height=H, margin=dict(l=0, r=0, t=0, b=0), paper_bgcolor="white",
                  plot_bgcolor="white", annotations=annotations)
# the page's default body margin would push the figure off the window
fig.write_html("out.html", post_script="document.body.style.margin = '0px';",
               config={"displayModeBar": False})
